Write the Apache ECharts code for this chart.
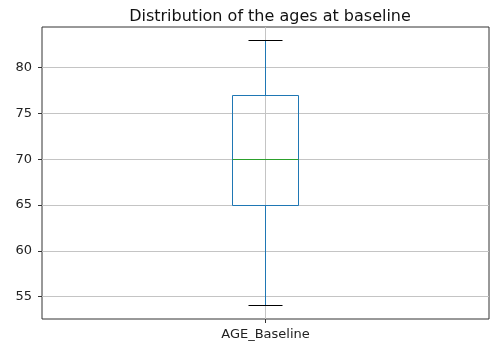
<!DOCTYPE html>
<html>
<head>
<meta charset="utf-8">
<script src="https://cdn.jsdelivr.net/npm/echarts@6/dist/echarts.min.js"></script>
<style>
  html, body { margin: 0; padding: 0; background: #fff; }
  #chart { width: 499px; height: 347px; }
</style>
</head>
<body>
<div id="chart"></div>
<script>
var columns = ['AGE_Baseline']
// [whisker low, Q1, median, Q3, whisker high]
var boxStats = [[54, 65, 70, 77, 83]]
var yTicks = [55, 60, 65, 70, 75, 80]

var chart = echarts.init(document.getElementById('chart'))

// snap 1px lines to pixel centres so they stay crisp
function px(v) { return Math.round(v - 0.5) + 0.5 }

function stroke(color) {
  return { stroke: color, lineWidth: 1, fill: 'none' }
}

function renderBox(params, api) {
  var x = api.value(0)
  var cx = px(api.coord([x, 0])[0])
  var lo = px(api.coord([x, api.value(1)])[1])
  var q1 = px(api.coord([x, api.value(2)])[1])
  var med = px(api.coord([x, api.value(3)])[1])
  var q3 = px(api.coord([x, api.value(4)])[1])
  var hi = px(api.coord([x, api.value(5)])[1])
  var halfBox = Math.round(api.size([0.296, 0])[0] / 2)
  var halfCap = Math.round(api.size([0.155, 0])[0] / 2)
  return {
    type: 'group',
    children: [
      { type: 'line', z2: 1, shape: { x1: cx, y1: lo, x2: cx, y2: q1 }, style: stroke('#1f77b4') },
      { type: 'line', z2: 1, shape: { x1: cx, y1: q3, x2: cx, y2: hi }, style: stroke('#1f77b4') },
      { type: 'rect', z2: 2, shape: { x: cx - halfBox, y: q3, width: halfBox * 2, height: q1 - q3 }, style: stroke('#1f77b4') },
      { type: 'line', z2: 3, shape: { x1: cx - halfBox, y1: med, x2: cx + halfBox, y2: med }, style: stroke('#2ca02c') },
      { type: 'line', z2: 1, shape: { x1: cx - halfCap, y1: lo, x2: cx + halfCap, y2: lo }, style: stroke('#000') },
      { type: 'line', z2: 1, shape: { x1: cx - halfCap, y1: hi, x2: cx + halfCap, y2: hi }, style: stroke('#000') }
    ]
  }
}

chart.setOption({
  animation: false,
  textStyle: { fontFamily: 'DejaVu Sans' },
  title: {
    text: 'Distribution of the ages at baseline',
    left: 265,
    textAlign: 'center',
    top: 4,
    textStyle: { fontSize: 16, fontWeight: 'normal', color: '#111', fontFamily: 'DejaVu Sans' }
  },
  grid: {
    left: 42, right: 10, top: 27, bottom: 28,
    show: true, borderColor: '#333', borderWidth: 1
  },
  xAxis: {
    type: 'value',
    min: 0, max: 2, interval: 1,
    axisLine: { show: false },
    axisTick: { show: true, length: 4, lineStyle: { color: '#333' }, customValues: [1] },
    axisLabel: {
      fontSize: 13, color: '#222', margin: 9,
      customValues: [1],
      formatter: function (v) { return v === 1 ? columns[0] : '' }
    },
    splitLine: { show: true, lineStyle: { color: '#c4c4c4', width: 1 } }
  },
  yAxis: {
    type: 'value',
    min: 52.55, max: 84.45,
    axisLine: { show: false },
    axisTick: { show: true, length: 4, lineStyle: { color: '#333' }, customValues: yTicks },
    axisLabel: { fontSize: 13, color: '#222', margin: 10, customValues: yTicks },
    splitLine: { show: false }
  },
  series: [
    {
      type: 'line',
      silent: true,
      symbol: 'none',
      z: 0,
      data: [],
      markLine: {
        silent: true, symbol: 'none', label: { show: false },
        lineStyle: { color: '#c4c4c4', width: 1, type: 'solid' },
        data: yTicks.map(function (t) { return { yAxis: t } })
      }
    },
    {
      type: 'custom',
      renderItem: renderBox,
      data: boxStats.map(function (s, i) { return [i + 1].concat(s) }),
      zlevel: 1,
      z: 10
    }
  ]
})
</script>
</body>
</html>
